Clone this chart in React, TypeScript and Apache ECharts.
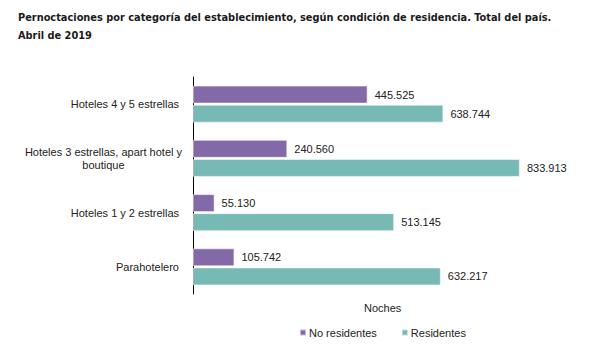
import React, { useEffect, useRef } from "react";
import * as echarts from "echarts";

const categories = [
  "Hoteles 4 y 5 estrellas",
  "Hoteles 3 estrellas, apart hotel y\nboutique",
  "Hoteles 1 y 2 estrellas",
  "Parahotelero",
];
const noResidentes = [445525, 240560, 55130, 105742];
const residentes = [638744, 833913, 513145, 632217];
const seriesNames = ["No residentes", "Residentes"];
const titleLines = [
  "Pernoctaciones por categoría del establecimiento, según condición de residencia. Total del país.",
  "Abril de 2019",
];
const axisName = "Noches";

const fmt = (v: number) => String(Math.round(v)).replace(/\B(?=(\d{3})+(?!\d))/g, ".");

export default function App() {
  const ref = useRef<HTMLDivElement>(null);
  useEffect(() => {
    if (!ref.current) return;
    const chart = echarts.init(ref.current, undefined, { renderer: "svg" });
    const font = "'Liberation Sans', Arial, sans-serif";
    const labelCfg = {
      show: true,
      position: "right" as const,
      distance: 7,
      fontFamily: font,
      fontSize: 11,
      color: "#222",
      formatter: (p: any) => fmt(p.value),
    };
    chart.setOption({
      animation: false,
      backgroundColor: "#fff",
      title: {
        text: titleLines.join("\n"),
        left: 13,
        top: 4,
        textStyle: {
          fontFamily: "'DejaVu Sans Condensed', 'Liberation Sans Narrow', sans-serif",
          fontWeight: "bold",
          fontSize: 10.9,
          lineHeight: 17.5,
          color: "#1a1a1a",
        },
      },
      grid: { left: 193, top: 77, width: 392, height: 217 },
      xAxis: {
        type: "value",
        min: 0,
        max: 1000000,
        show: true,
        axisLine: { show: false },
        axisTick: { show: false },
        axisLabel: { show: false },
        splitLine: { show: false },
      },
      yAxis: {
        type: "category",
        inverse: true,
        data: categories,
        axisLine: { show: true, lineStyle: { color: "#000", width: 1 } },
        axisTick: { show: false },
        axisLabel: {
          margin: 11,
          fontFamily: font,
          fontSize: 11,
          color: "#222",
          lineHeight: 13,
          formatter: (v: string) =>
            v.indexOf("\n") >= 0
              ? v
                  .split("\n")
                  .map((l) => "{c|" + l + "}")
                  .join("\n")
              : "{s|" + v + "}",
          rich: {
            c: { align: "center", fontFamily: font, fontSize: 11, color: "#222", lineHeight: 13 },
            s: { fontFamily: font, fontSize: 11, color: "#222", lineHeight: 13, padding: [0, 3, 0, 0] },
          },
        },
      },
      legend: {
        data: seriesNames,
        left: 294,
        top: 322,
        icon: "rect",
        itemWidth: 6,
        itemHeight: 6,
        itemGap: 24,
        textStyle: { fontFamily: font, fontSize: 11, color: "#222", padding: [0, 0, 0, -2] },
      },
      graphic: [
        {
          type: "text",
          left: 382 - 18,
          top: 302,
          style: { text: axisName, fontFamily: font, fontSize: 11, fill: "#222" },
        },
      ],
      series: [
        {
          name: seriesNames[0],
          type: "bar",
          data: noResidentes,
          barWidth: 18,
          barGap: "6%",
          itemStyle: { color: "#8469a8", borderColor: "rgba(255,255,255,0.55)", borderWidth: 1 },
          label: labelCfg,
        },
        {
          name: seriesNames[1],
          type: "bar",
          data: residentes,
          barWidth: 18,
          barGap: "6%",
          itemStyle: { color: "#77b9b5", borderColor: "rgba(255,255,255,0.55)", borderWidth: 1 },
          label: labelCfg,
        },
      ],
    });
    return () => chart.dispose();
  }, []);
  return <div ref={ref} style={{ position: "absolute", left: 0, top: 0, width: 596, height: 346 }} />;
}
